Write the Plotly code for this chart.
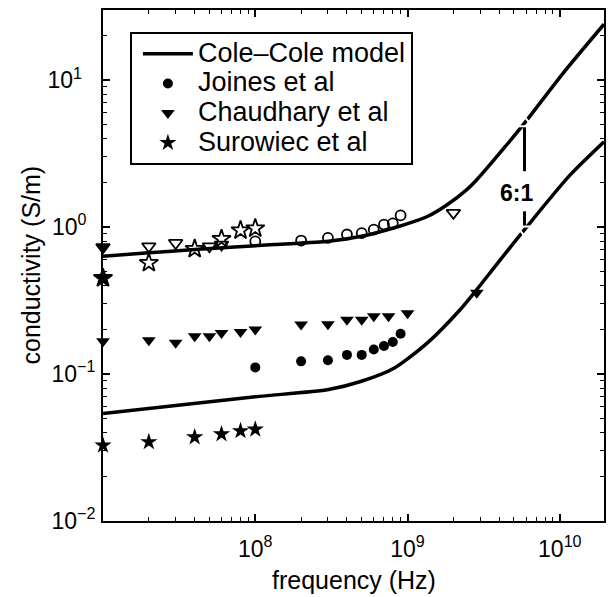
import numpy as np
import plotly.graph_objects as go

# ---- data ----
# Cole-Cole model, upper curve
model_hi_f = [1e7, 1.9e7, 4e7, 1.33e8, 3.03e8, 4.98e8, 8.2e8, 1.11e9, 1.35e9, 1.82e9, 2.45e9,
              2.85e9, 4.25e9, 5.86e9, 1.04e10, 1.95e10]
model_hi_s = [0.633, 0.667, 0.703, 0.76, 0.80, 0.865, 0.99, 1.094, 1.18, 1.42, 1.80,
              2.1, 3.4, 5.1, 11.0, 24.0]
# Cole-Cole model, lower curve
model_lo_f = [1e7, 1e8, 3.03e8, 4.98e8, 8.2e8, 1.35e9, 2.22e9, 2.85e9, 3.84e9, 5.86e9, 1.15e10, 1.95e10]
model_lo_s = [0.0539, 0.070, 0.0785, 0.0893, 0.110, 0.163, 0.275, 0.376, 0.556, 0.96, 2.22, 3.8]

# Joines et al (filled)
joines_f = [1e8, 2e8, 3e8, 4e8, 5e8, 6e8, 7e8, 8e8, 9e8]
joines_s = [0.111, 0.122, 0.124, 0.135, 0.135, 0.147, 0.155, 0.165, 0.188]
# Chaudhary et al (filled)
chaud_f = [1e7, 2e7, 3e7, 4e7, 5e7, 6e7, 8e7, 1e8, 2e8, 3e8, 4e8, 5e8, 6e8, 7.5e8, 1e9, 2.85e9]
chaud_s = [0.167, 0.17, 0.163, 0.181, 0.181, 0.19, 0.193, 0.201, 0.217, 0.218, 0.234, 0.234,
           0.247, 0.247, 0.259, 0.357]
# Surowiec et al (filled)
surow_f = [1e7, 2e7, 4e7, 6e7, 8e7, 1e8]
surow_s = [0.0327, 0.0345, 0.0372, 0.039, 0.041, 0.042]

# upper-curve data (open markers)
hi_tri_f = [1e7, 2e7, 3e7, 5e7, 6e7, 2e9]
hi_tri_s = [0.73, 0.74, 0.78, 0.74, 0.76, 1.25]
hi_circ_f = [1e8, 2e8, 3e8, 4e8, 5e8, 6e8, 7e8, 8e8, 9e8]
hi_circ_s = [0.80, 0.81, 0.845, 0.89, 0.91, 0.96, 1.04, 1.06, 1.20]
hi_star_f = [1e7, 2e7, 4e7, 6e7, 8e7, 1e8]
hi_star_s = [0.45, 0.57, 0.71, 0.83, 0.95, 0.98]

# 6:1 ratio annotation
ratio_f = 5.86e9
ratio_hi = 5.1
ratio_lo = 0.96
shaft_up = [2.40, 4.8]
shaft_dn = [1.28, 1.0]
ratio_label = "6:1"
ratio_label_pos = (5.2e9, 1.71)

x_tick_vals = [1e8, 1e9, 1e10]
x_tick_text = ["10<sup>8</sup>", "10<sup>9</sup>", "10<sup>10</sup>"]
y_tick_vals = [1e-2, 1e-1, 1e0, 1e1]
y_tick_text = ["10<sup>\u22122</sup>", "10<sup>\u22121</sup>",
               "10<sup>0\u00a0\u00a0</sup>", "10<sup>1\u00a0\u00a0\u00a0</sup>"]

legend_names = ["Cole\u2013Cole model", "Joines et al", "Chaudhary et al", "Surowiec et al"]

FONT = "Liberation Sans, Arial, Helvetica, sans-serif"
K = "black"


def lg(name):
    return '<span style="font-size:27px">' + name + '</span>'


fig = go.Figure()
fig.add_trace(go.Scatter(x=model_hi_f, y=model_hi_s, mode="lines", name=lg(legend_names[0]),
                         line=dict(color=K, width=3.5, shape="spline", smoothing=0.7),
                         legendgroup="m"))
fig.add_trace(go.Scatter(x=model_lo_f, y=model_lo_s, mode="lines", name=lg(legend_names[0]),
                         line=dict(color=K, width=3.5, shape="spline", smoothing=0.7),
                         legendgroup="m", showlegend=False))
fig.add_trace(go.Scatter(x=joines_f, y=joines_s, mode="markers", name=lg(legend_names[1]),
                         marker=dict(symbol="circle", size=10, color=K), cliponaxis=False))
fig.add_trace(go.Scatter(x=chaud_f, y=chaud_s, mode="markers", name=lg(legend_names[2]),
                         marker=dict(symbol="triangle-down", size=12, color=K), cliponaxis=False))
fig.add_trace(go.Scatter(x=surow_f, y=surow_s, mode="markers", name=lg(legend_names[3]),
                         marker=dict(symbol="star", size=13, color=K), cliponaxis=False))

tri_sym = ["triangle-down" if f == 1e7 else "triangle-down-open" for f in hi_tri_f]
star_sym = ["star" if f == 1e7 else "star-open" for f in hi_star_f]
fig.add_trace(go.Scatter(x=hi_tri_f, y=hi_tri_s, mode="markers", showlegend=False,
                         marker=dict(symbol=tri_sym, size=12, color=K, line=dict(color=K, width=1.8)),
                         cliponaxis=False))
fig.add_trace(go.Scatter(x=hi_circ_f, y=hi_circ_s, mode="markers", showlegend=False,
                         marker=dict(symbol="circle-open", size=10, color=K, line=dict(color=K, width=1.8)),
                         cliponaxis=False))
fig.add_trace(go.Scatter(x=hi_star_f, y=hi_star_s, mode="markers", showlegend=False,
                         marker=dict(symbol=star_sym, size=14, color=K, line=dict(color=K, width=1.8)),
                         cliponaxis=False))

# arrows
fig.add_trace(go.Scatter(x=[ratio_f, ratio_f], y=shaft_up, mode="lines", showlegend=False,
                         line=dict(color=K, width=3)))
fig.add_trace(go.Scatter(x=[ratio_f, ratio_f], y=shaft_dn, mode="lines", showlegend=False,
                         line=dict(color=K, width=3)))
fig.add_trace(go.Scatter(x=[ratio_f, ratio_f], y=[ratio_hi, ratio_lo], mode="markers", showlegend=False,
                         marker=dict(symbol=["triangle-up-open", "triangle-down-open"], size=13,
                                     color="white", line=dict(color=K, width=2))))

fig.add_annotation(x=np.log10(ratio_label_pos[0]), y=np.log10(ratio_label_pos[1]),
                   text="<b>" + ratio_label + "</b>",
                   showarrow=False, font=dict(size=23, color=K, family=FONT))

# axis titles
fig.add_annotation(xref="paper", yref="paper", x=0.5, y=0, yanchor="middle", yshift=-59,
                   text="frequency (Hz)", showarrow=False, font=dict(size=25, color=K, family=FONT))
fig.add_annotation(xref="paper", yref="paper", x=0, y=0.5, xanchor="center", xshift=-73, textangle=-90,
                   text="conductivity (S/m)", showarrow=False, font=dict(size=25, color=K, family=FONT))

x_minor = [m * 10 ** e for e in range(7, 11) for m in range(2, 10) if m * 10 ** e <= 1.95e10]
y_minor = [m * 10 ** e for e in range(-2, 2) for m in range(2, 10) if m * 10 ** e <= 30]

axis_common = dict(type="log", showgrid=False, zeroline=False, showline=True, linecolor=K, linewidth=2,
                   mirror="ticks", ticks="inside", ticklen=7, tickwidth=1.5, tickcolor=K,
                   tickfont=dict(size=23, color=K, family=FONT), tickmode="array")
fig.update_xaxes(**axis_common, range=[7, np.log10(1.95e10)], tickvals=x_tick_vals, ticktext=x_tick_text,
                 minor=dict(tickmode="array", tickvals=x_minor, ticks="inside", ticklen=4, tickcolor=K,
                            tickwidth=1, showgrid=False),
                 ticklabelstandoff=6)
fig.update_yaxes(**axis_common, range=[-2, np.log10(30)], tickvals=y_tick_vals, ticktext=y_tick_text,
                 minor=dict(tickmode="array", tickvals=y_minor, ticks="inside", ticklen=4, tickcolor=K,
                            tickwidth=1, showgrid=False),
                 ticklabelstandoff=1)

fig.update_layout(
    width=609, height=597,
    margin=dict(l=103, r=3, t=10, b=76),
    paper_bgcolor="white", plot_bgcolor="white",
    font=dict(family=FONT, color=K, size=25),
    legend=dict(x=0.0537, y=0.957, xanchor="left", yanchor="top", bgcolor="white",
                bordercolor=K, borderwidth=2, font=dict(size=20.5, color=K, family=FONT),
                itemwidth=50, indentation=6, tracegroupgap=0),
    showlegend=True,
)

fig.write_html("out.html")
